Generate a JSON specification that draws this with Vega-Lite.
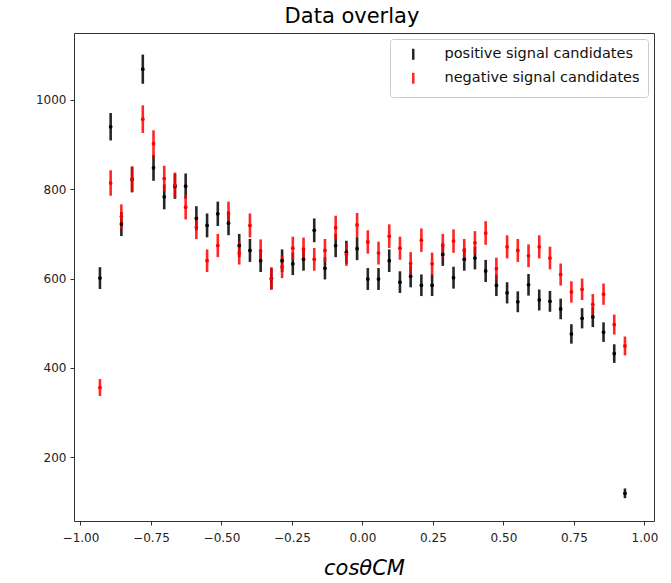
{
  "$schema": "https://vega.github.io/schema/vega-lite/v6.json",
  "width": 580,
  "height": 488,
  "padding": {"left": 35, "top": 6, "right": 10, "bottom": 5},
  "title": {"text": "Data overlay", "fontSize": 21, "font": "DejaVu Sans", "fontWeight": "normal", "color": "#000", "offset": 6, "dx": -12},
  "config": {
    "view": {"stroke": "#333", "strokeWidth": 1},
    "axis": {"labelFont": "DejaVu Sans", "labelFontSize": 12, "labelColor": "#222", "tickColor": "#333", "tickSize": 4, "grid": false, "domain": false, "titleFont": "DejaVu Sans", "titleColor": "#000"},
    "legend": {"labelFont": "DejaVu Sans", "labelFontSize": 14.5, "labelColor": "#111", "labelLimit": 400, "orient": "top-right", "offset": 6, "strokeColor": "#ccc", "fillColor": "#fff", "cornerRadius": 3, "padding": 8, "rowPadding": 2, "symbolType": "M0,-1L0,1", "symbolStrokeWidth": 2.5, "symbolSize": 120, "symbolOffset": 8, "labelOffset": 24, "title": null}
  },
  "data": {"values": [
    {"series":"positive signal candidates","cos":-0.931,"count":601,"err":24.5},
    {"series":"positive signal candidates","cos":-0.893,"count":940,"err":30.7},
    {"series":"positive signal candidates","cos":-0.855,"count":722,"err":26.9},
    {"series":"positive signal candidates","cos":-0.817,"count":822,"err":28.7},
    {"series":"positive signal candidates","cos":-0.779,"count":1069,"err":32.7},
    {"series":"positive signal candidates","cos":-0.741,"count":848,"err":29.1},
    {"series":"positive signal candidates","cos":-0.703,"count":783,"err":28.0},
    {"series":"positive signal candidates","cos":-0.665,"count":807,"err":28.4},
    {"series":"positive signal candidates","cos":-0.627,"count":807,"err":28.4},
    {"series":"positive signal candidates","cos":-0.589,"count":735,"err":27.1},
    {"series":"positive signal candidates","cos":-0.551,"count":719,"err":26.8},
    {"series":"positive signal candidates","cos":-0.513,"count":745,"err":27.3},
    {"series":"positive signal candidates","cos":-0.475,"count":724,"err":26.9},
    {"series":"positive signal candidates","cos":-0.437,"count":674,"err":26.0},
    {"series":"positive signal candidates","cos":-0.399,"count":663,"err":25.7},
    {"series":"positive signal candidates","cos":-0.361,"count":640,"err":25.3},
    {"series":"positive signal candidates","cos":-0.323,"count":600,"err":24.5},
    {"series":"positive signal candidates","cos":-0.285,"count":640,"err":25.3},
    {"series":"positive signal candidates","cos":-0.247,"count":633,"err":25.2},
    {"series":"positive signal candidates","cos":-0.209,"count":643,"err":25.4},
    {"series":"positive signal candidates","cos":-0.171,"count":708,"err":26.6},
    {"series":"positive signal candidates","cos":-0.133,"count":623,"err":25.0},
    {"series":"positive signal candidates","cos":-0.095,"count":674,"err":26.0},
    {"series":"positive signal candidates","cos":-0.057,"count":659,"err":25.7},
    {"series":"positive signal candidates","cos":-0.019,"count":667,"err":25.8},
    {"series":"positive signal candidates","cos":0.019,"count":599,"err":24.5},
    {"series":"positive signal candidates","cos":0.057,"count":599,"err":24.5},
    {"series":"positive signal candidates","cos":0.095,"count":640,"err":25.3},
    {"series":"positive signal candidates","cos":0.133,"count":592,"err":24.3},
    {"series":"positive signal candidates","cos":0.171,"count":605,"err":24.6},
    {"series":"positive signal candidates","cos":0.209,"count":585,"err":24.2},
    {"series":"positive signal candidates","cos":0.247,"count":585,"err":24.2},
    {"series":"positive signal candidates","cos":0.285,"count":654,"err":25.6},
    {"series":"positive signal candidates","cos":0.323,"count":602,"err":24.5},
    {"series":"positive signal candidates","cos":0.361,"count":643,"err":25.4},
    {"series":"positive signal candidates","cos":0.399,"count":646,"err":25.4},
    {"series":"positive signal candidates","cos":0.437,"count":617,"err":24.8},
    {"series":"positive signal candidates","cos":0.475,"count":585,"err":24.2},
    {"series":"positive signal candidates","cos":0.513,"count":568,"err":23.8},
    {"series":"positive signal candidates","cos":0.551,"count":548,"err":23.4},
    {"series":"positive signal candidates","cos":0.589,"count":586,"err":24.2},
    {"series":"positive signal candidates","cos":0.627,"count":552,"err":23.5},
    {"series":"positive signal candidates","cos":0.665,"count":549,"err":23.4},
    {"series":"positive signal candidates","cos":0.703,"count":532,"err":23.1},
    {"series":"positive signal candidates","cos":0.741,"count":476,"err":21.8},
    {"series":"positive signal candidates","cos":0.779,"count":511,"err":22.6},
    {"series":"positive signal candidates","cos":0.817,"count":514,"err":22.7},
    {"series":"positive signal candidates","cos":0.855,"count":480,"err":21.9},
    {"series":"positive signal candidates","cos":0.893,"count":432,"err":20.8},
    {"series":"positive signal candidates","cos":0.931,"count":119,"err":10.9},
    {"series":"negative signal candidates","cos":-0.931,"count":356,"err":18.9},
    {"series":"negative signal candidates","cos":-0.893,"count":814,"err":28.5},
    {"series":"negative signal candidates","cos":-0.855,"count":739,"err":27.2},
    {"series":"negative signal candidates","cos":-0.817,"count":822,"err":28.7},
    {"series":"negative signal candidates","cos":-0.779,"count":957,"err":30.9},
    {"series":"negative signal candidates","cos":-0.741,"count":902,"err":30.0},
    {"series":"negative signal candidates","cos":-0.703,"count":824,"err":28.7},
    {"series":"negative signal candidates","cos":-0.665,"count":809,"err":28.4},
    {"series":"negative signal candidates","cos":-0.627,"count":760,"err":27.6},
    {"series":"negative signal candidates","cos":-0.589,"count":715,"err":26.7},
    {"series":"negative signal candidates","cos":-0.551,"count":640,"err":25.3},
    {"series":"negative signal candidates","cos":-0.513,"count":674,"err":26.0},
    {"series":"negative signal candidates","cos":-0.475,"count":745,"err":27.3},
    {"series":"negative signal candidates","cos":-0.437,"count":657,"err":25.6},
    {"series":"negative signal candidates","cos":-0.399,"count":719,"err":26.8},
    {"series":"negative signal candidates","cos":-0.361,"count":662,"err":25.7},
    {"series":"negative signal candidates","cos":-0.323,"count":600,"err":24.5},
    {"series":"negative signal candidates","cos":-0.285,"count":626,"err":25.0},
    {"series":"negative signal candidates","cos":-0.247,"count":668,"err":25.8},
    {"series":"negative signal candidates","cos":-0.209,"count":666,"err":25.8},
    {"series":"negative signal candidates","cos":-0.171,"count":643,"err":25.4},
    {"series":"negative signal candidates","cos":-0.133,"count":663,"err":25.7},
    {"series":"negative signal candidates","cos":-0.095,"count":714,"err":26.7},
    {"series":"negative signal candidates","cos":-0.057,"count":654,"err":25.6},
    {"series":"negative signal candidates","cos":-0.019,"count":720,"err":26.8},
    {"series":"negative signal candidates","cos":0.019,"count":682,"err":26.1},
    {"series":"negative signal candidates","cos":0.057,"count":657,"err":25.6},
    {"series":"negative signal candidates","cos":0.095,"count":695,"err":26.4},
    {"series":"negative signal candidates","cos":0.133,"count":668,"err":25.8},
    {"series":"negative signal candidates","cos":0.171,"count":634,"err":25.2},
    {"series":"negative signal candidates","cos":0.209,"count":686,"err":26.2},
    {"series":"negative signal candidates","cos":0.247,"count":633,"err":25.2},
    {"series":"negative signal candidates","cos":0.285,"count":674,"err":26.0},
    {"series":"negative signal candidates","cos":0.323,"count":684,"err":26.2},
    {"series":"negative signal candidates","cos":0.361,"count":663,"err":25.7},
    {"series":"negative signal candidates","cos":0.399,"count":680,"err":26.1},
    {"series":"negative signal candidates","cos":0.437,"count":702,"err":26.5},
    {"series":"negative signal candidates","cos":0.475,"count":622,"err":24.9},
    {"series":"negative signal candidates","cos":0.513,"count":671,"err":25.9},
    {"series":"negative signal candidates","cos":0.551,"count":663,"err":25.7},
    {"series":"negative signal candidates","cos":0.589,"count":651,"err":25.5},
    {"series":"negative signal candidates","cos":0.627,"count":671,"err":25.9},
    {"series":"negative signal candidates","cos":0.665,"count":646,"err":25.4},
    {"series":"negative signal candidates","cos":0.703,"count":609,"err":24.7},
    {"series":"negative signal candidates","cos":0.741,"count":570,"err":23.9},
    {"series":"negative signal candidates","cos":0.779,"count":576,"err":24.0},
    {"series":"negative signal candidates","cos":0.817,"count":542,"err":23.3},
    {"series":"negative signal candidates","cos":0.855,"count":565,"err":23.8},
    {"series":"negative signal candidates","cos":0.893,"count":497,"err":22.3},
    {"series":"negative signal candidates","cos":0.931,"count":449,"err":21.2}
  ]},
  "encoding": {
    "x": {"field": "cos", "type": "quantitative", "scale": {"domain": [-1.023, 1.034], "nice": false, "zero": false},
      "axis": {"values": [-1, -0.75, -0.5, -0.25, 0, 0.25, 0.5, 0.75, 1], "format": ".2f", "title": "cosθCM", "titleFontSize": 21, "titleFontStyle": "italic", "titleFontWeight": "normal", "titlePadding": 14, "labelPadding": 7}},
    "color": {"field": "series", "type": "nominal", "sort": ["positive signal candidates", "negative signal candidates"],
      "scale": {"domain": ["positive signal candidates", "negative signal candidates"], "range": ["#000000", "#ff0000"]}}
  },
  "layer": [
    {
      "mark": {"type": "errorbar", "thickness": 2.6, "opacity": 0.85},
      "encoding": {
        "y": {"field": "count", "type": "quantitative", "scale": {"domain": [57, 1150], "nice": false, "zero": false},
          "axis": {"values": [200, 400, 600, 800, 1000], "format": "d", "title": null, "labelPadding": 4}},
        "yError": {"field": "err"}
      }
    },
    {
      "mark": {"type": "point", "filled": true, "shape": "circle", "size": 14, "opacity": 1},
      "encoding": {
        "y": {"field": "count", "type": "quantitative"}
      }
    }
  ]
}
